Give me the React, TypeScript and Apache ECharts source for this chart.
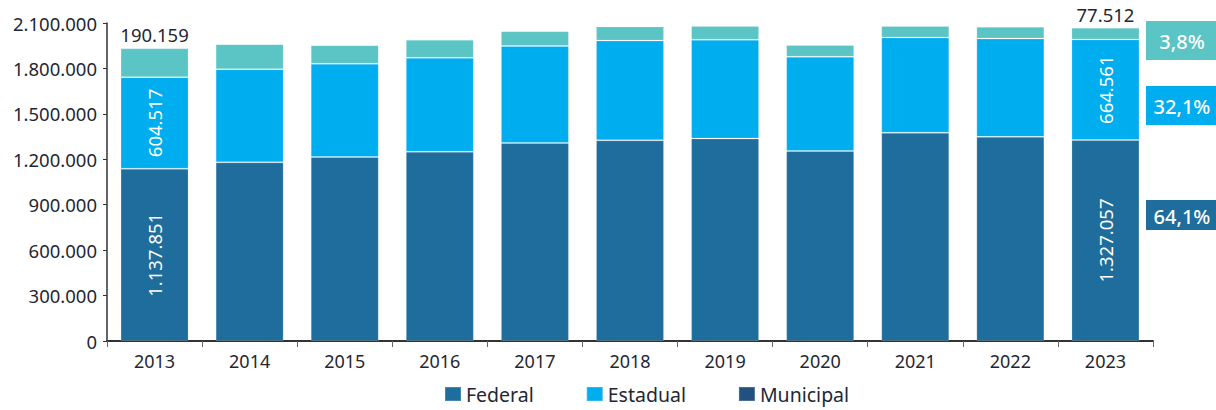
import React, { useEffect, useRef } from "react";
import * as echarts from "echarts";

const years = ["2013", "2014", "2015", "2016", "2017", "2018", "2019", "2020", "2021", "2022", "2023"];
const federal = [1137851, 1180000, 1215000, 1250000, 1308000, 1325000, 1337000, 1255000, 1375000, 1348000, 1327057];
const estadual = [604517, 615000, 616000, 620000, 640000, 659000, 653000, 622000, 629000, 649000, 664561];
const municipal = [190159, 165000, 122000, 120000, 98000, 93000, 91000, 78000, 76000, 78000, 77512];
const yTicks = { min: 0, max: 2100000, interval: 300000 };
const shareLabels = ["3,8%", "32,1%", "64,1%"];
const labelledIdx = [0, 10];

const C_FED = "#1e6d9c";
const C_EST = "#00adef";
const C_MUN = "#5bc4c4";
const C_MUN_LEG = "#22507f";
const FONT = "'Noto Sans', sans-serif";
const TXT = "#1f2733";

function fmt(n: number): string {
  return String(Math.round(n)).replace(/\B(?=(\d{3})+(?!\d))/g, ".");
}

export default function App() {
  const ref = useRef<HTMLDivElement>(null);
  useEffect(() => {
    document.body.style.margin = "0";
    const chart = echarts.init(ref.current!, null, { renderer: "svg" });
    const insideLabel = {
      show: true,
      position: "inside",
      rotate: 90,
      color: "#ffffff",
      fontSize: 18.5,
      fontFamily: FONT,
      formatter: (p: any) => fmt(p.value),
    };
    const mk = (arr: number[], label: any) =>
      arr.map((v, i) => (labelledIdx.includes(i) ? { value: v, label } : { value: v }));
    const topLabel = {
      show: true,
      position: "top",
      distance: 4,
      color: TXT,
      fontSize: 18.5,
      fontFamily: FONT,
      formatter: (p: any) => fmt(p.value),
    };
    const border = { borderColor: "rgba(255,255,255,0.18)", borderWidth: 1 };
    const boxes = [
      { y: 21, h: 39, color: C_MUN, text: shareLabels[0] },
      { y: 86, h: 39, color: C_EST, text: shareLabels[1] },
      { y: 200, h: 30, color: C_FED, text: shareLabels[2] },
    ];
    chart.setOption({
      animation: false,
      textStyle: { fontFamily: FONT },
      grid: { left: 107, right: 63, top: 23, bottom: 69 },
      legend: {
        bottom: 1,
        left: 439,
        itemWidth: 16,
        itemHeight: 14,
        itemGap: 52,
        icon: "rect",
        textStyle: { fontSize: 19.5, color: TXT, fontFamily: FONT },
        selectedMode: false,
        data: [
          { name: "Federal", itemStyle: { color: C_FED } },
          { name: "Estadual", itemStyle: { color: C_EST } },
          { name: "Municipal", itemStyle: { color: C_MUN_LEG } },
        ],
      },
      xAxis: {
        type: "category",
        data: years,
        axisLine: { lineStyle: { color: "#333333", width: 2 } },
        axisTick: { show: true, length: 6, lineStyle: { color: "#666666" } },
        axisLabel: { color: TXT, fontSize: 18, margin: 11, fontFamily: FONT },
      },
      yAxis: {
        type: "value",
        min: yTicks.min,
        max: yTicks.max,
        interval: yTicks.interval,
        splitLine: { show: false },
        axisLine: { show: true, lineStyle: { color: "#333333", width: 1.5 } },
        axisTick: { show: true, length: 4, lineStyle: { color: "#333333" } },
        axisLabel: { color: TXT, fontSize: 18.5, margin: 10, fontFamily: FONT, formatter: (v: number) => fmt(v) },
      },
      series: [
        {
          name: "Federal",
          type: "bar",
          stack: "t",
          barWidth: 68,
          itemStyle: { color: C_FED, ...border },
          data: mk(federal, insideLabel),
        },
        {
          name: "Estadual",
          type: "bar",
          stack: "t",
          barWidth: 68,
          itemStyle: { color: C_EST, ...border },
          data: mk(estadual, insideLabel),
        },
        {
          name: "Municipal",
          type: "bar",
          stack: "t",
          barWidth: 68,
          itemStyle: { color: C_MUN, ...border },
          data: mk(municipal, topLabel),
        },
      ],
      graphic: boxes.flatMap((b) => [
        { type: "rect", shape: { x: 1146, y: b.y, width: 70, height: b.h }, style: { fill: b.color } },
        {
          type: "text",
          x: 1182,
          y: b.y + b.h / 2 + 1,
          style: {
            text: b.text,
            fill: "#ffffff",
            fontSize: 20,
            fontWeight: 500,
            fontFamily: FONT,
            align: "center",
            verticalAlign: "middle",
          },
        },
      ]),
    });
    return () => chart.dispose();
  }, []);
  return <div ref={ref} style={{ width: 1216, height: 410 }} />;
}
